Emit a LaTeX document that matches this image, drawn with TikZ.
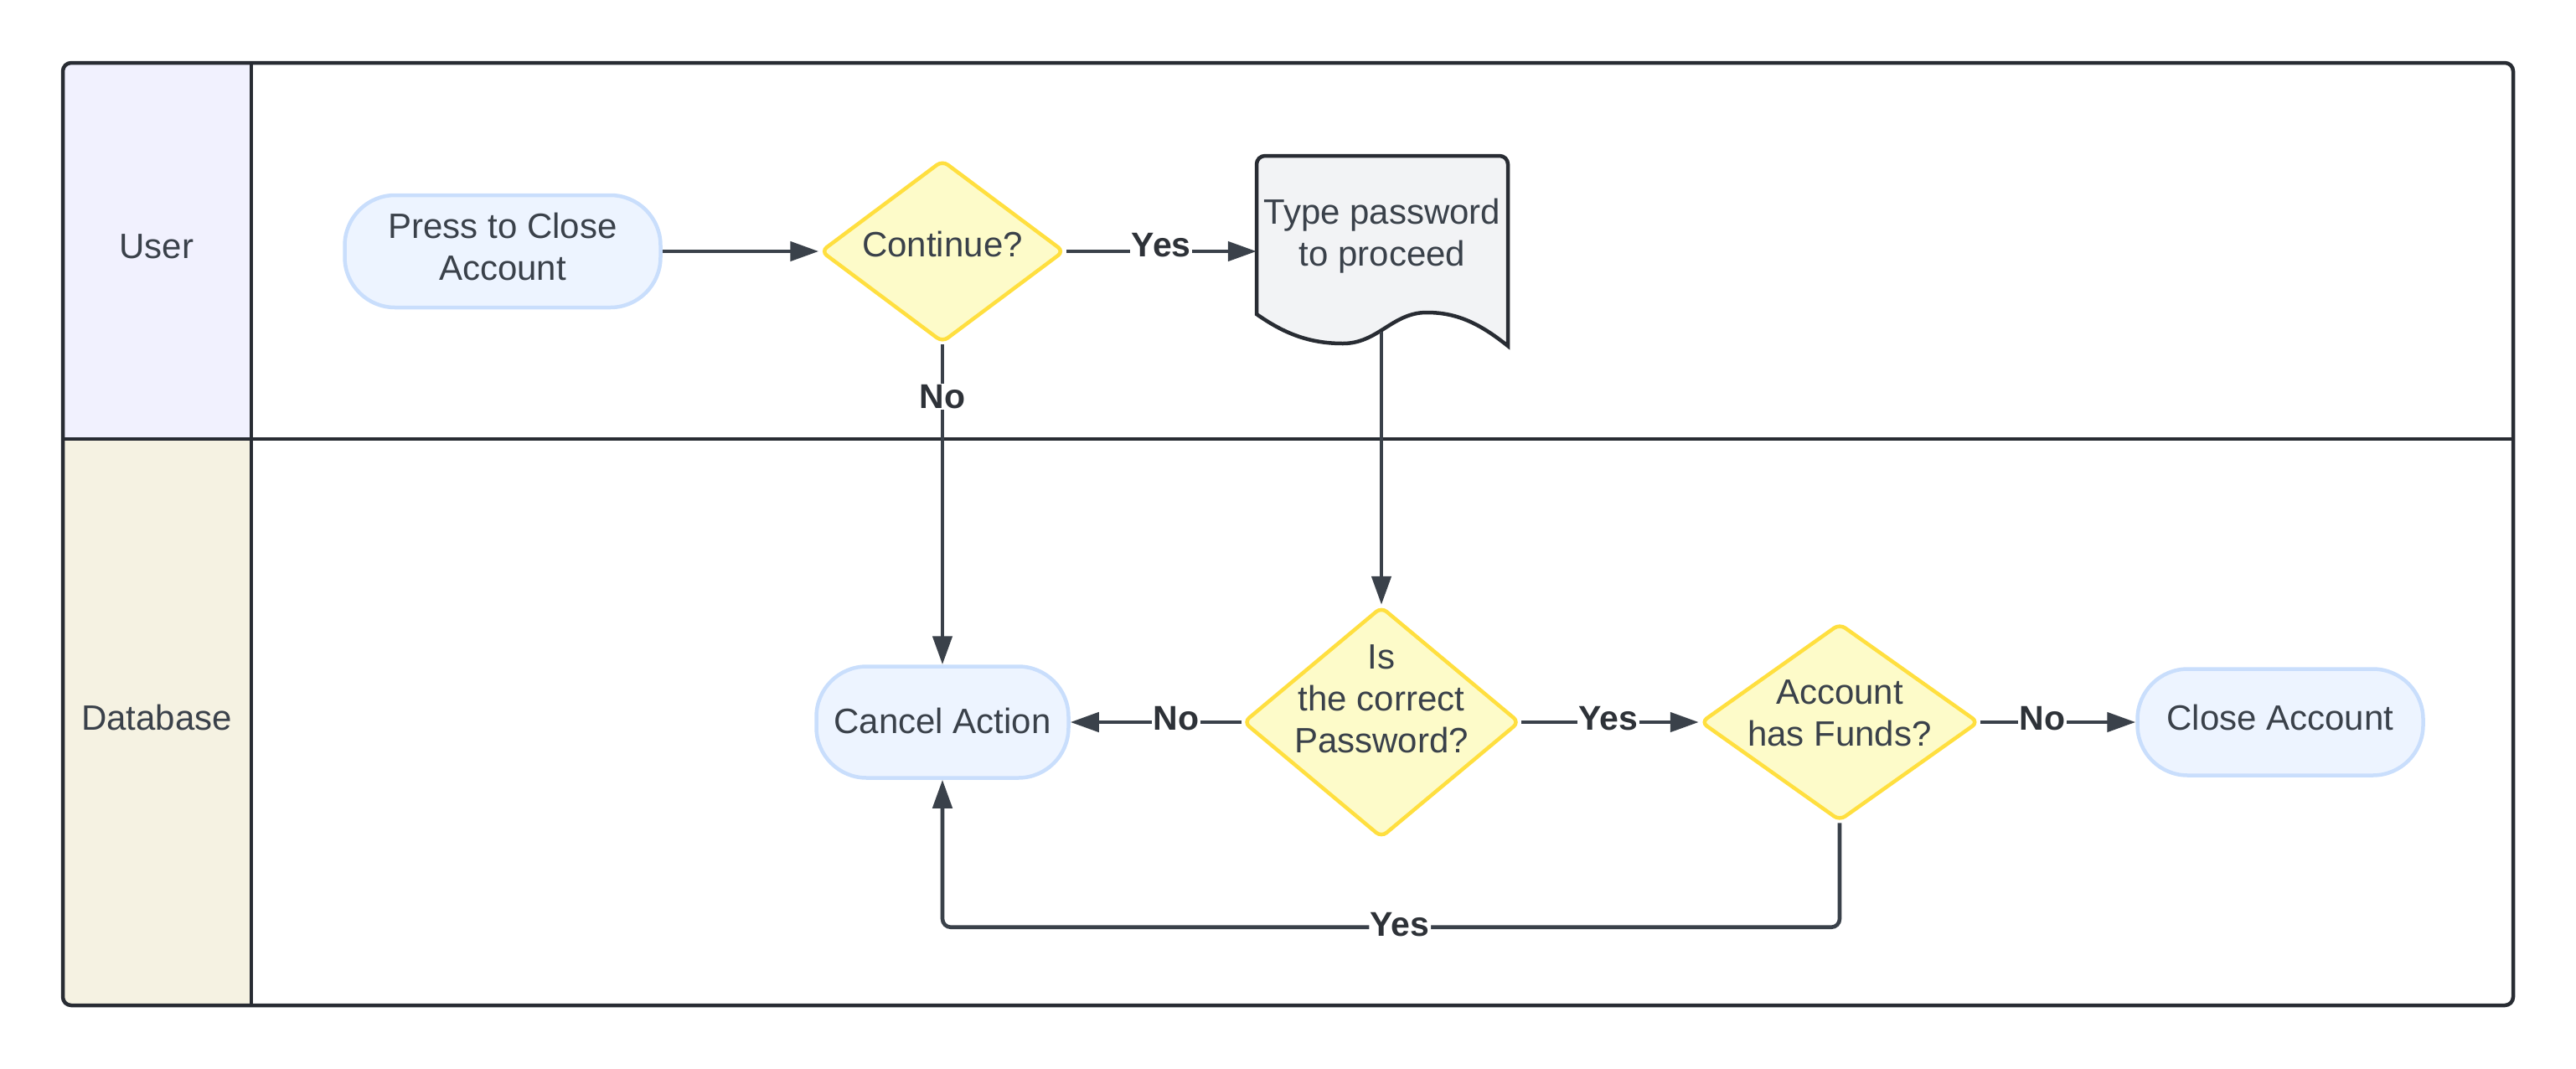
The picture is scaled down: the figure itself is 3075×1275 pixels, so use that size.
\documentclass[tikz,border=0pt]{standalone}
\usepackage{fontspec}
\setmainfont{Liberation Sans}
\usetikzlibrary{shapes.geometric,arrows.meta,calc}
\definecolor{ink}{HTML}{3A414A}
\definecolor{lblc}{HTML}{2E3238}
\definecolor{framec}{HTML}{282C33}
\definecolor{termfill}{HTML}{EDF4FF}
\definecolor{termline}{HTML}{C9DEFC}
\definecolor{decfill}{HTML}{FDFBC9}
\definecolor{decline}{HTML}{FFDF3F}
\definecolor{docfill}{HTML}{F2F3F5}
\definecolor{userbg}{HTML}{F1F1FE}
\definecolor{dbbg}{HTML}{F5F2E2}
\newcommand{\dgfont}{\fontsize{42}{50}\selectfont}
\newcommand{\dglabfont}{\fontsize{41}{41}\selectfont\bfseries}
\tikzset{
  frame/.style={draw=framec, line width=4.5pt},
  term/.style={draw=termline, fill=termfill, line width=4.5pt, rounded corners=60pt,
    inner sep=0pt},
  dec/.style={shape=diamond, draw=decline, fill=decfill, line width=4.5pt,
    rounded corners=8pt, inner sep=0pt},
  txt/.style={text=ink, font=\dgfont, align=center, inner sep=0pt},
  conn/.style={draw=ink, line width=4.6pt, -{Triangle[length=34pt,width=23pt]}},
  lbl/.style={text=lblc, font=\dglabfont, fill=white, inner sep=1.5pt},
}
\begin{document}
\begin{tikzpicture}[x=1pt,y=-1pt]
\useasboundingbox (0,0) rectangle (3075,1275);
% swimlanes
\begin{scope}
  \clip[rounded corners=10pt] (75,75) rectangle (3000,1200);
  \fill[userbg] (75,75) rectangle (300,524);
  \fill[dbbg] (75,524) rectangle (300,1200);
\end{scope}
\draw[frame, rounded corners=10pt] (75,75) rectangle (3000,1200);
\draw[frame] (300,75) -- (300,1200);
\draw[frame] (75,524) -- (3000,524);
\node[txt] (userlbl) at (187,294) {User};
\node[txt] (dblbl) at (187,856) {Database};

% nodes
\node[term, minimum width=377pt, minimum height=134pt] (press) at (600,300) {};
\node[txt] (presst) at (600,294) {Press to Close\\Account};
\node[dec, minimum width=291pt, minimum height=218pt] (cont) at (1125,300) {};
\node[txt] (contt) at (1125,291) {Continue?};

\node[inner sep=0pt, minimum width=300pt, minimum height=228pt] (doc) at (1650,300) {};
\draw[draw=framec, fill=docfill, line width=4.5pt]
  (1500,375) [rounded corners=10pt] -- (1500,186) -- (1800,186) [sharp corners] -- (1800,413)
  .. controls (1765,385) and (1738,373) .. (1703,373)
  .. controls (1662,373) and (1645,410) .. (1603,410)
  .. controls (1560,410) and (1530,396) .. (1500,375) -- cycle;
\node[txt] (doct) at (1650,282) {Type password\\to proceed};

\node[term, minimum width=301pt, minimum height=133pt] (cancel) at (1125,862) {};
\node[txt] (cancelt) at (1125,860) {Cancel Action};
\node[dec, minimum width=330pt, minimum height=276pt] (pw) at (1649,862) {};
\node[txt] (pwt) at (1649,834) {Is\\the correct\\Password?};
\node[dec, minimum width=332pt, minimum height=236pt] (funds) at (2196,862) {};
\node[txt] (fundst) at (2196,851) {Account\\has Funds?};
\node[term, minimum width=341pt, minimum height=127pt] (close) at (2722,862) {};
\node[txt] (closet) at (2722,856) {Close Account};
\coordinate (docout) at (1649,396);

% connectors
\draw[conn] (press.east) -- (cont.west);
\draw[conn] (cont.east) -- node[lbl, yshift=7pt]{Yes} (doc.west);
\draw[conn] (cont.south) -- node[lbl, pos=0.163]{No} (cancel.north);
\draw[conn] (docout) -- (pw.north);
\draw[conn] (pw.west) -- node[lbl, pos=0.38, yshift=4pt]{No} (cancel.east);
\draw[conn] (pw.east) -- node[lbl, pos=0.49, yshift=4pt]{Yes} (funds.west);
\draw[conn] (funds.east) -- node[lbl, pos=0.4, yshift=4pt]{No} (close.west);
\draw[conn, rounded corners=10pt] (funds.south) |- node[lbl, pos=0.745, yshift=3pt]{Yes} ($(cancel.south)+(0,176)$) -- (cancel.south);
\end{tikzpicture}
\end{document}
